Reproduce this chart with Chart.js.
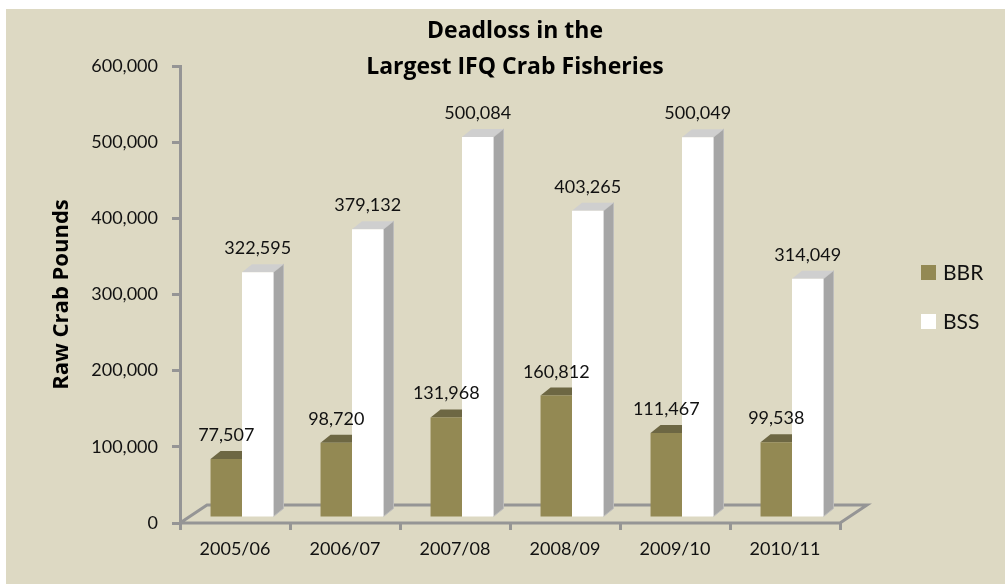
<!DOCTYPE html>
<html>
<head>
<meta charset="utf-8">
<script src="https://cdn.jsdelivr.net/npm/chart.js@4"></script>
<style>
html,body{margin:0;padding:0;background:#fff;}
#wrap{width:1005px;height:584px;}
</style>
</head>
<body>
<div id="wrap"><canvas id="c" width="1005" height="584"></canvas></div>
<script>
const categories = ['2005/06','2006/07','2007/08','2008/09','2009/10','2010/11'];
const bbrValues = [77507, 98720, 131968, 160812, 111467, 99538];
const bssValues = [322595, 379132, 500084, 403265, 500049, 314049];
const seriesNames = ['BBR','BSS'];
const titleLines = ['Deadloss in the','Largest IFQ Crab Fisheries'];
const yTitle = 'Raw Crab Pounds';

const FONT = 'Lato, "Open Sans", sans-serif';
const BOLDFONT = '"Open Sans", Lato, sans-serif';
const BG = '#ddd9c3';
const AXIS = '#959595';
const SHIFT_X = 7, SHIFT_Y = -5;   // 3D offset of bars inside floor
const DX = 10, DY = 8;             // bar depth

const fmt = v => v.toLocaleString('en-US');

const bgPlugin = {
  id:'bg',
  beforeDraw(chart){
    const ctx = chart.ctx;
    ctx.save();
    ctx.fillStyle = '#ffffff';
    ctx.fillRect(0,0,chart.width,chart.height);
    ctx.fillStyle = BG;
    ctx.fillRect(6,9,chart.width-6,chart.height-9);
    ctx.restore();
  }
};

const floorPlugin = {
  id:'floor3d',
  beforeDatasetsDraw(chart){
    const ctx = chart.ctx, a = chart.chartArea;
    const y0 = chart.scales.y.getPixelForValue(0);
    const fdx = 27, fdy = 18;
    ctx.save();
    ctx.strokeStyle = AXIS;
    ctx.lineWidth = 3;
    ctx.lineJoin = 'miter';
    ctx.beginPath();
    ctx.moveTo(a.left, y0);
    ctx.lineTo(a.left+fdx, y0-fdy);
    ctx.lineTo(a.right+fdx, y0-fdy);
    ctx.lineTo(a.right, y0);
    ctx.lineTo(a.left, y0);
    ctx.stroke();
    // 3D faces of the bars (drawn before fronts so fronts overlap them)
    ctx.translate(SHIFT_X, SHIFT_Y);
    chart.data.datasets.forEach((ds, di) => {
      const meta = chart.getDatasetMeta(di);
      meta.data.forEach(bar => {
        const {x, y, width, base} = bar.getProps(['x','y','width','base'], true);
        const L = x - width/2, R = x + width/2;
        if (di === 1) {
          ctx.fillStyle = '#a6a6a6';
          ctx.beginPath();
          ctx.moveTo(R, y); ctx.lineTo(R+DX, y-DY); ctx.lineTo(R+DX, base-DY); ctx.lineTo(R, base);
          ctx.closePath(); ctx.fill();
          ctx.strokeStyle = '#bdbdbd'; ctx.lineWidth = 1; ctx.stroke();
        }
        ctx.fillStyle = di === 0 ? '#6d6743' : '#cfcfcf';
        ctx.beginPath();
        ctx.moveTo(L, y); ctx.lineTo(R, y); ctx.lineTo(R+DX, y-DY); ctx.lineTo(L+DX, y-DY);
        ctx.closePath(); ctx.fill();
      });
    });
    ctx.restore();
    // shift the bar fronts
    ctx.save();
    ctx.translate(SHIFT_X, SHIFT_Y);
  },
  afterDatasetsDraw(chart){
    const ctx = chart.ctx;
    // still translated: draw value labels
    ctx.font = '18px ' + FONT;
    ctx.fillStyle = '#111';
    ctx.textAlign = 'center';
    ctx.textBaseline = 'alphabetic';
    chart.data.datasets.forEach((ds, di) => {
      const meta = chart.getDatasetMeta(di);
      meta.data.forEach((bar, i) => {
        const {x, y} = bar.getProps(['x','y'], true);
        ctx.fillText(fmt(ds.data[i]), x, y - 18);
      });
    });
    ctx.restore();
  }
};

const textPlugin = {
  id:'texts',
  afterDraw(chart){
    const ctx = chart.ctx;
    ctx.save();
    ctx.fillStyle = '#000';
    ctx.textAlign = 'center';
    ctx.textBaseline = 'alphabetic';
    ctx.font = 'bold 23px ' + BOLDFONT;
    ctx.fillText(titleLines[0], 515, 38);
    ctx.fillText(titleLines[1], 515, 74);
    // legend
    const colors = ['#938953', '#ffffff'];
    ctx.font = '21px ' + FONT;
    ctx.textAlign = 'left';
    seriesNames.forEach((n, i) => {
      const top = 265 + i*49;
      ctx.fillStyle = colors[i];
      ctx.fillRect(921, top, 15, 15);
      ctx.fillStyle = '#111';
      ctx.fillText(n, 943, top + 15);
    });
    ctx.restore();
  }
};

new Chart(document.getElementById('c'), {
  type:'bar',
  data:{
    labels: categories,
    datasets:[
      {label: seriesNames[0], data: bbrValues, backgroundColor:'#938953', borderWidth:0},
      {label: seriesNames[1], data: bssValues, backgroundColor:'#ffffff', borderWidth:0}
    ]
  },
  options:{
    responsive:false,
    animation:false,
    events:[],
    layout:{padding:{left:0, top:66, right:165, bottom:0}},
    datasets:{bar:{categoryPercentage:0.572, barPercentage:1}},
    plugins:{legend:{display:false}, title:{display:false}, tooltip:{enabled:false}},
    scales:{
      x:{
        afterFit(s){ s.height = 61; },
        grid:{drawOnChartArea:false, color:AXIS, lineWidth:3, tickLength:7, offset:true},
        border:{display:false},
        ticks:{font:{family:FONT, size:18}, color:'#111', padding:8, maxRotation:0}
      },
      y:{
        min:0, max:600000,
        afterFit(s){ s.width = 180; },
        grid:{drawOnChartArea:false, color:AXIS, lineWidth:3, tickLength:8},
        border:{display:true, color:AXIS, width:3},
        ticks:{stepSize:100000, font:{family:FONT, size:18}, color:'#111', padding:14,
               callback: v => fmt(v)},
        title:{display:true, text:yTitle, font:{family:BOLDFONT, size:22, weight:'bold'}, color:'#000',
               padding:{top:49, bottom:0}}
      }
    }
  },
  plugins:[bgPlugin, floorPlugin, textPlugin]
});
</script>
</body>
</html>
